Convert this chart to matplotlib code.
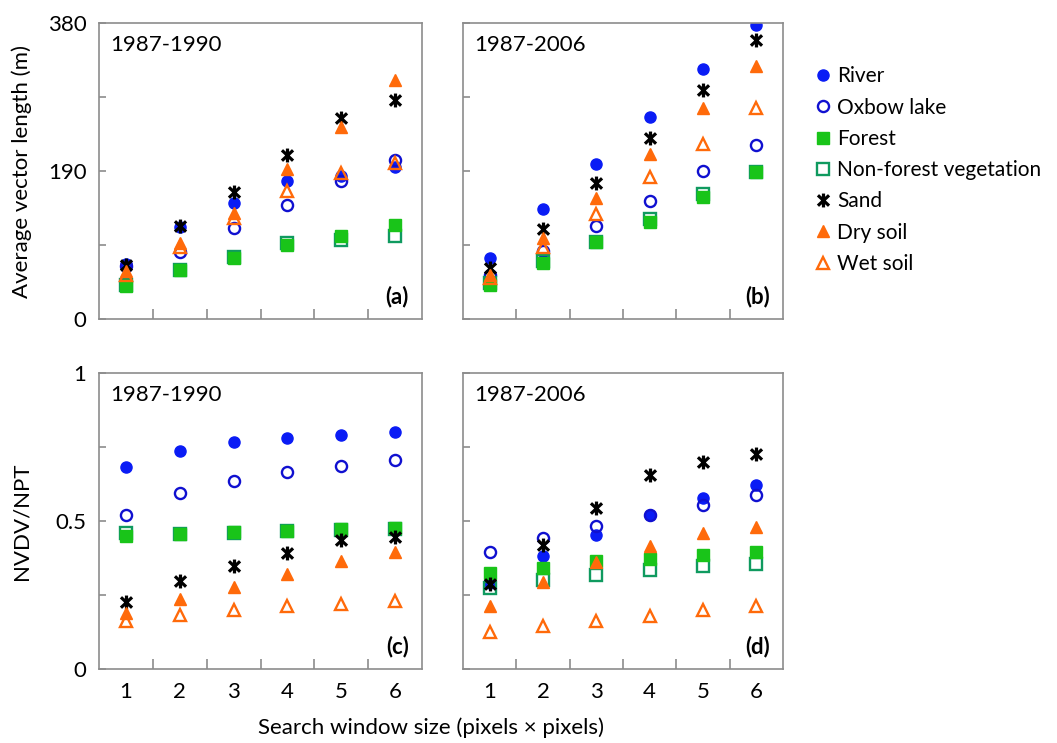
import numpy as np
import matplotlib.pyplot as plt
from matplotlib.path import Path
from matplotlib.lines import Line2D

plt.rcParams['font.family'] = ['Lato', 'DejaVu Sans']

# =====================================
# Data
# =====================================

windows = [1, 2, 3, 4, 5, 6]
labels = ["River", "Oxbow lake", "Forest", "Non-forest vegetation",
          "Sand", "Dry soil", "Wet soil"]

# (a) average vector length, 1987-1990
a_river = [70, 118, 149, 177, 183, 195]
a_oxbow = [68, 86, 117, 146, 177, 204]
a_forest = [43, 63, 78, 95, 106, 121]
a_nonforest = [44, 63, 80, 97, 102, 107]
a_sand = [69, 119, 163, 210, 258, 281]
a_dry = [61, 98, 136, 192, 247, 307]
a_wet = [57, 93, 130, 164, 187, 200]

# (b) average vector length, 1987-2006
b_river = [78, 141, 199, 259, 321, 377]
b_oxbow = [57, 87, 119, 152, 190, 224]
b_forest = [44, 72, 99, 125, 156, 189]
b_nonforest = [46, 74, 99, 128, 160, 189]
b_sand = [66, 115, 174, 232, 294, 358]
b_dry = [57, 104, 155, 212, 271, 325]
b_wet = [53, 92, 135, 182, 225, 271]

# (c) NVDV/NPT, 1987-1990
c_river = [0.681, 0.738, 0.766, 0.780, 0.792, 0.801]
c_oxbow = [0.519, 0.595, 0.636, 0.664, 0.687, 0.707]
c_forest = [0.448, 0.457, 0.463, 0.467, 0.474, 0.476]
c_nonforest = [0.459, 0.455, 0.460, 0.465, 0.470, 0.473]
c_sand = [0.225, 0.296, 0.347, 0.392, 0.437, 0.445]
c_dry = [0.189, 0.238, 0.276, 0.322, 0.364, 0.395]
c_wet = [0.161, 0.184, 0.200, 0.214, 0.221, 0.229]

# (d) NVDV/NPT, 1987-2006
d_river = [0.290, 0.383, 0.454, 0.521, 0.578, 0.623]
d_oxbow = [0.394, 0.443, 0.482, 0.520, 0.555, 0.589]
d_forest = [0.324, 0.341, 0.364, 0.373, 0.386, 0.395]
d_nonforest = [0.274, 0.302, 0.319, 0.333, 0.347, 0.356]
d_sand = [0.288, 0.420, 0.544, 0.654, 0.698, 0.727]
d_dry = [0.214, 0.293, 0.361, 0.414, 0.459, 0.479]
d_wet = [0.124, 0.144, 0.163, 0.180, 0.198, 0.212]

# =====================================
# Marker styles
# =====================================

star = Path(
    [(0, -1), (0, 1), (-0.8, -0.75), (0.8, 0.75), (-0.8, 0.75), (0.8, -0.75)],
    [Path.MOVETO, Path.LINETO, Path.MOVETO, Path.LINETO, Path.MOVETO, Path.LINETO]
)

styles = {
    "River": dict(marker="o", mfc="#0a1cf5", mec="#0a1cf5", ms=8, mew=1),
    "Oxbow lake": dict(marker="o", mfc="none", mec="#1010d0", ms=8, mew=1.7),
    "Forest": dict(marker="s", mfc="#19c419", mec="#19c419", ms=8, mew=1),
    "Non-forest vegetation": dict(marker="s", mfc="none", mec="#0f9a5f", ms=8, mew=1.7),
    "Sand": dict(marker=star, mfc="none", mec="black", ms=10, mew=2.3),
    "Dry soil": dict(marker="^", mfc="#ff6a0a", mec="#ff6a0a", ms=9, mew=1),
    "Wet soil": dict(marker="^", mfc="none", mec="#ff6a0a", ms=9, mew=1.7),
}

draw_order = ["River", "Oxbow lake", "Non-forest vegetation", "Forest",
              "Sand", "Dry soil", "Wet soil"]

panels = [
    dict(name="(a)", period="1987-1990", ylim=380, yticks=[0, 95, 190, 285, 380],
         ylabels=["0", "", "190", "", "380"],
         data=dict(zip(labels, [a_river, a_oxbow, a_forest, a_nonforest, a_sand, a_dry, a_wet]))),
    dict(name="(b)", period="1987-2006", ylim=380, yticks=[0, 95, 190, 285, 380],
         ylabels=None,
         data=dict(zip(labels, [b_river, b_oxbow, b_forest, b_nonforest, b_sand, b_dry, b_wet]))),
    dict(name="(c)", period="1987-1990", ylim=1, yticks=[0, 0.25, 0.5, 0.75, 1],
         ylabels=["0", "", "0.5", "", "1"],
         data=dict(zip(labels, [c_river, c_oxbow, c_forest, c_nonforest, c_sand, c_dry, c_wet]))),
    dict(name="(d)", period="1987-2006", ylim=1, yticks=[0, 0.25, 0.5, 0.75, 1],
         ylabels=None,
         data=dict(zip(labels, [d_river, d_oxbow, d_forest, d_nonforest, d_sand, d_dry, d_wet]))),
]

# =====================================
# Figure
# =====================================

fig = plt.figure(figsize=(10.57, 7.43), dpi=100)

W, H = 1057, 743
boxes = [(99, 23, 323, 296), (463, 23, 320, 296),
         (99, 373, 323, 296), (463, 373, 320, 296)]

spine_col = "#8c8c8c"
fs = 16

for i, (p, (x0, y0, w, h)) in enumerate(zip(panels, boxes)):
    ax = fig.add_axes([x0 / W, 1 - (y0 + h) / H, w / W, h / H])

    for name in draw_order:
        ax.plot(windows, p["data"][name], linestyle="none", **styles[name])

    ax.set_xlim(0.5, 6.5)
    ax.set_ylim(0, p["ylim"])

    # category ticks between the groups, labels under the group centres
    ax.set_xticks([1.5, 2.5, 3.5, 4.5, 5.5])
    ax.set_xticklabels([])
    if i >= 2:
        ax.set_xticks(windows, minor=True)
        ax.set_xticklabels([str(v) for v in windows], minor=True, fontsize=fs)
        ax.tick_params(axis="x", which="minor", length=0, pad=9)

    ax.set_yticks(p["yticks"])
    if p["ylabels"] is None:
        ax.set_yticklabels([])
    else:
        ax.set_yticklabels(p["ylabels"], fontsize=fs)

    ax.tick_params(axis="x", which="major", direction="in", length=7, width=1.2, color=spine_col)
    ax.tick_params(axis="y", direction="in", length=5, width=1.2, color=spine_col, pad=9)

    for s in ax.spines.values():
        s.set_color(spine_col)
        s.set_linewidth(1.2)

    ax.text(0.035, 0.925, p["period"], transform=ax.transAxes, fontsize=fs,
            va="center", ha="left")
    ax.text(0.96, 0.075, p["name"], transform=ax.transAxes, fontsize=fs,
            fontweight="bold", va="center", ha="right")

fig.text(22 / W, 1 - 171 / H, "Average vector length (m)", rotation=90,
         fontsize=fs, va="center", ha="center")
fig.text(22 / W, 1 - 521 / H, "NVDV/NPT", rotation=90,
         fontsize=fs, va="center", ha="center")
fig.text(431 / W, 1 - 728 / H, "Search window size (pixels \u00d7 pixels)",
         fontsize=fs, va="center", ha="center")

handles = [Line2D([], [], linestyle="none", **styles[n]) for n in labels]
fig.legend(handles, labels, loc="upper left", bbox_to_anchor=(806 / W, 1 - 58 / H),
           frameon=False, fontsize=15, handlelength=0.8, handletextpad=0.3,
           labelspacing=0.54, borderaxespad=0)

plt.savefig("out.png", dpi=100)
